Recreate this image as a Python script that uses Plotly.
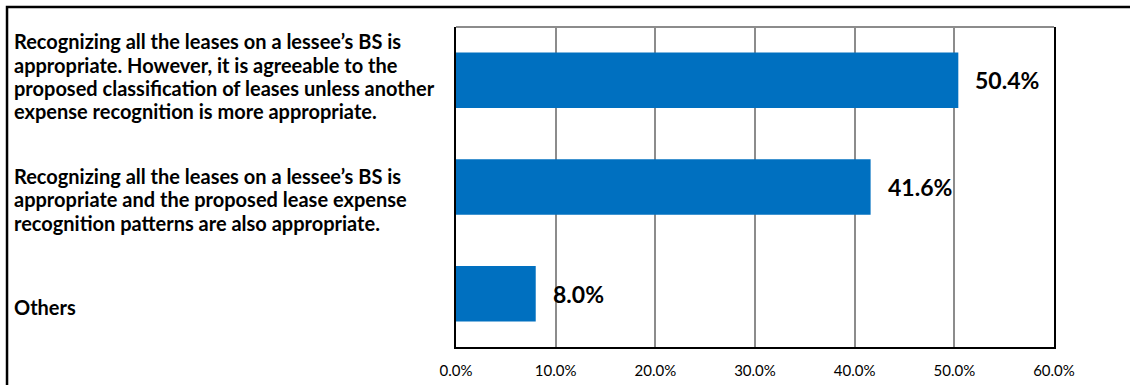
import plotly.graph_objects as go

# Survey responses on lessee balance-sheet recognition
categories = [
    "Recognizing all the leases on a lessee’s BS is\nappropriate. However, it is agreeable to the\nproposed classification of leases unless another\nexpense recognition is more appropriate.",
    "Recognizing all the leases on a lessee’s BS is\nappropriate and the proposed lease expense\nrecognition patterns are also appropriate.",
    "Others",
]
shares = [50.4, 41.6, 8.0]
tick_values = [0, 10, 20, 30, 40, 50, 60]
tick_labels = ["0.0%", "10.0%", "20.0%", "30.0%", "40.0%", "50.0%", "60.0%"]

BAR_BLUE = "#0070C0"
FONT = "Lato"
LINE_PITCH = 23.3  # px between caption lines

fig = go.Figure(
    go.Bar(
        x=shares,
        y=categories,
        orientation="h",
        marker=dict(color=BAR_BLUE, line=dict(width=0)),
        hoverinfo="skip",
    )
)

# value labels just right of each bar
for cat, val in zip(categories, shares):
    fig.add_annotation(
        x=val, y=cat, xref="x", yref="y",
        text=f"{val:.1f}%", showarrow=False,
        xanchor="left", yanchor="middle", xshift=15, yshift=0,
        font=dict(family=FONT, size=23, color="#000000", weight="bold"),
    )

# left-aligned category captions in the left margin, one annotation per line
# first-line offset (px, downward) of each caption relative to its bar centre
first_line_offset = [-39, -11, 13]
for cat, off in zip(categories, first_line_offset):
    for i, line in enumerate(cat.split("\n")):
        fig.add_annotation(
            x=-0.7425, y=cat, xref="paper", yref="y",
            text=line, showarrow=False, align="left",
            xanchor="left", yanchor="middle",
            yshift=-(off + i * LINE_PITCH),
            font=dict(family=FONT, size=20, color="#000000", weight="bold"),
        )

# gray top edge of the plot area
fig.add_shape(type="line", xref="paper", yref="paper",
              x0=0, x1=1, y0=1, y1=1,
              line=dict(color="#8C8C8C", width=2))

# outer frame around the chart object
fig.add_shape(type="rect", xref="paper", yref="paper",
              x0=-0.7508, x1=1.3, y0=-0.3, y1=1.0625,
              line=dict(color="#000000", width=2.5), layer="above")

fig.update_layout(
    width=1130, height=385,
    margin=dict(l=456, r=76, t=27, b=38),
    paper_bgcolor="white", plot_bgcolor="white",
    showlegend=False,
    bargap=0.48,
    font=dict(family=FONT, color="#000000"),
    xaxis=dict(
        range=[0, 60],
        tickvals=tick_values, ticktext=tick_labels,
        showgrid=True, gridcolor="#8C8C8C", gridwidth=1.5,
        showline=True, linecolor="#000000", linewidth=2,
        zeroline=False, ticks="",
        tickfont=dict(family=FONT, size=15, color="#000000"),
        ticklabelstandoff=9,
        automargin=False,
        fixedrange=True,
    ),
    yaxis=dict(
        categoryorder="array", categoryarray=categories[::-1],
        showticklabels=False, ticks="",
        showgrid=False, zeroline=False,
        showline=True, linecolor="#000000", linewidth=2, mirror=True,
        automargin=False,
        fixedrange=True,
    ),
)

fig.write_html("out.html", config={"displayModeBar": False})
